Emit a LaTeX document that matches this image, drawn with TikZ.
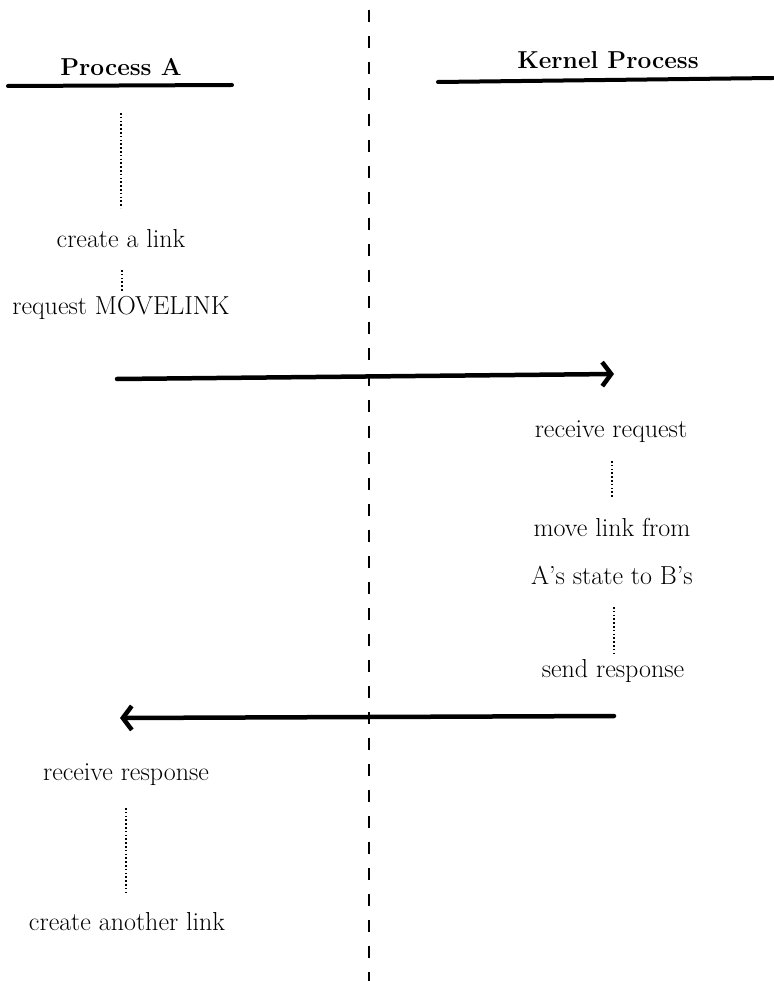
\documentclass[tikz,border=0pt]{standalone}
\usetikzlibrary{arrows.meta}
\begin{document}
\begin{tikzpicture}[x=1pt,y=-1pt,
  lbl/.style={inner sep=0pt,font=\fontsize{26}{31}\selectfont},
  title/.style={inner sep=0pt,font=\fontsize{24.5}{29}\selectfont\bfseries},
  underline/.style={line width=4pt,line cap=round},
  divider/.style={line width=1.3pt,dash pattern=on 12pt off 14pt},
  waitline/.style={line width=1.5pt,dash pattern=on 1.6pt off 2.2pt},
  message/.style={line width=4.5pt,line cap=round,
    -{Straight Barb[length=9pt,width=24pt,line width=4.5pt]}}]
\useasboundingbox (0,0) rectangle (773,981);

% boundary between the user process and the kernel
\coordinate (divtop) at (369,10);
\coordinate (divbot) at (369,981);
\draw[divider] (divtop) -- (divbot);

% lifeline headings
\node[title] (procA) at (121,67) {Process A};
\coordinate (ulAl) at (8,86);
\coordinate (ulAr) at (232,85);
\draw[underline] (ulAl) -- (ulAr);

\node[title] (kern) at (608,60) {Kernel Process};
\coordinate (ulKl) at (438,82);
\coordinate (ulKr) at (773,78);
\draw[underline] (ulKl) -- (ulKr);

% Process A, before the request
\node[lbl] (create) at (121,239) {create a link};
\node[lbl] (request) at (121,308) {request MOVELINK};
\coordinate (w1a) at (121,113);
\coordinate (w1b) at (121,208);
\draw[waitline] (w1a) -- (w1b);
\coordinate (w2a) at (122,270);
\coordinate (w2b) at (122,292);
\draw[waitline] (w2a) -- (w2b);

% request message
\coordinate (reqfrom) at (117,379);
\coordinate (reqto) at (614,374);
\draw[message] (reqfrom) -- (reqto);

% kernel side
\node[lbl] (recvreq) at (611,432) {receive request};
\node[lbl] (move1) at (612,527) {move link from};
\node[lbl] (move2) at (612,575) {A's state to B's};
\node[lbl] (send) at (613,671) {send response};
\coordinate (w3a) at (612,461);
\coordinate (w3b) at (612,497);
\draw[waitline] (w3a) -- (w3b);
\coordinate (w4a) at (614,607);
\coordinate (w4b) at (614,655);
\draw[waitline] (w4a) -- (w4b);

% response message
\coordinate (respfrom) at (614,716);
\coordinate (respto) at (120,718);
\draw[message] (respfrom) -- (respto);

% Process A, after the response
\node[lbl] (recvresp) at (126,775) {receive response};
\node[lbl] (another) at (127,922) {create another link};
\coordinate (w5a) at (126,808);
\coordinate (w5b) at (126,893);
\draw[waitline] (w5a) -- (w5b);
\end{tikzpicture}
\end{document}
